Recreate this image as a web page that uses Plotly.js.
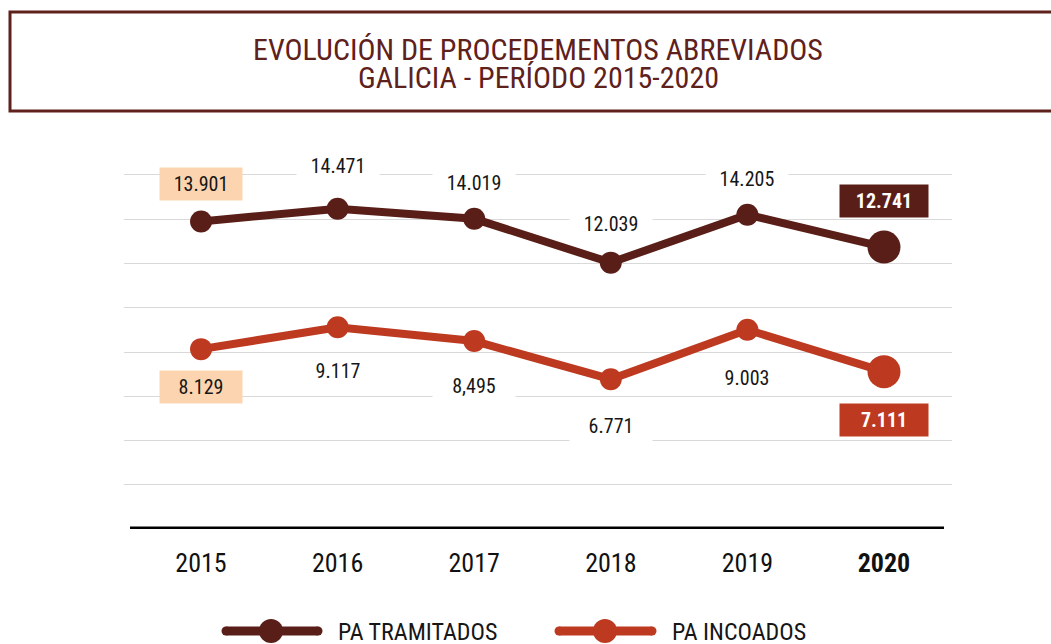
<!DOCTYPE html>
<html>
<head>
<meta charset="utf-8">
<script src="https://cdn.plot.ly/plotly-3.0.1.min.js"></script>
<style>
html,body{margin:0;padding:0;background:#fff;}
#chart{width:1051px;height:644px;}
</style>
</head>
<body>
<div id="chart"></div>
<script>
// ---- data ----
const years = ['2015', '2016', '2017', '2018', '2019', '2020'];
const yearLabels = ['2015', '2016', '2017', '2018', '2019', '<b>2020</b>'];
const tramitados = [13901, 14471, 14019, 12039, 14205, 12741];
const incoados = [8129, 9117, 8495, 6771, 9003, 7111];
const tramitadosLabels = ['13.901', '14.471', '14.019', '12.039', '14.205', '12.741'];
const incoadosLabels = ['8.129', '9.117', '8,495', '6.771', '9.003', '7.111'];
const seriesNames = ['PA TRAMITADOS', 'PA INCOADOS'];
const titleLines = ['EVOLUCIÓN DE PROCEDEMENTOS ABREVIADOS', 'GALICIA - PERÍODO 2015-2020'];

// ---- styles ----
const BROWN = '#5A1E18';
const RED = '#BD3A21';
const PEACH = '#FCD5B0';
const FONT = '"Liberation Sans Narrow", "Arial Narrow", "Roboto Condensed", sans-serif';
const tramShift = [37, 43, 36, 39, 36, 46];
const incShift = [-38, -44, -45, -47, -48, -48];

const ML = 124, MR = 99, MT = 173, MB = 115, W = 1051, H = 644;
const PW = W - ML - MR, PH = H - MT - MB;
const YTOP = 16090;
function px2x(px) { return (px - ML) / PW; }
function py2y(py) { return (H - MB - py) / PH; }

const lastIdx = years.length - 1;
const markerSizes = years.map((y, i) => i === lastIdx ? 33 : 22);

const traces = [
  {
    x: years, y: tramitados, name: seriesNames[0], type: 'scatter', mode: 'lines+markers',
    line: {color: BROWN, width: 8},
    marker: {color: BROWN, size: markerSizes, opacity: 1, line: {width: 0}},
    hoverinfo: 'x+y', showlegend: false
  },
  {
    x: years, y: incoados, name: seriesNames[1], type: 'scatter', mode: 'lines+markers',
    line: {color: RED, width: 8},
    marker: {color: RED, size: markerSizes, opacity: 1, line: {width: 0}},
    hoverinfo: 'x+y', showlegend: false
  }
];

const annotations = [];
function addLabels(vals, labels, shifts, color) {
  vals.forEach((v, i) => {
    const last = i === lastIdx;
    const first = i === 0;
    annotations.push({
      x: i, y: v, xref: 'x', yref: 'y', text: last ? '<b>' + labels[i] + '</b>' : labels[i],
      showarrow: false, yshift: shifts[i], xanchor: 'center', yanchor: 'middle',
      width: last ? 86 : 80, height: 30,
      bgcolor: last ? color : (first ? PEACH : '#ffffff'),
      font: {family: FONT, size: 20, color: last ? '#ffffff' : '#161616'}
    });
  });
}
addLabels(tramitados, tramitadosLabels, tramShift, BROWN);
addLabels(incoados, incoadosLabels, incShift, RED);

// title
annotations.push({
  xref: 'paper', yref: 'paper', x: px2x(538), y: py2y(49), text: titleLines[0], showarrow: false,
  xanchor: 'center', yanchor: 'middle', font: {family: FONT, size: 30, color: '#5F211C'}
});
annotations.push({
  xref: 'paper', yref: 'paper', x: px2x(538), y: py2y(77), text: titleLines[1], showarrow: false,
  xanchor: 'center', yanchor: 'middle', font: {family: FONT, size: 30, color: '#5F211C'}
});

// legend (custom)
const legendItems = [
  {x0: 222, x1: 322, mx: 271, tx: 336, color: BROWN, name: seriesNames[0]},
  {x0: 555, x1: 656, mx: 605, tx: 670, color: RED, name: seriesNames[1]}
];
const LY = 631;
const shapes = [
  // title box
  {type: 'rect', xref: 'paper', yref: 'paper', x0: px2x(10), x1: px2x(1060), y0: py2y(111), y1: py2y(12),
   line: {color: '#5F211C', width: 3}, fillcolor: 'rgba(0,0,0,0)', layer: 'below'},
  // baseline
  {type: 'line', xref: 'paper', yref: 'y', x0: px2x(130), x1: px2x(944), y0: 0, y1: 0,
   line: {color: '#000000', width: 5}}
];
legendItems.forEach(it => {
  shapes.push({type: 'line', xref: 'paper', yref: 'paper', x0: px2x(it.x0 + 4), x1: px2x(it.x1 - 4),
    y0: py2y(LY), y1: py2y(LY), line: {color: it.color, width: 9}});
  [it.x0 + 4, it.x1 - 4].forEach(cx => {
    shapes.push({type: 'circle', xref: 'paper', yref: 'paper', xsizemode: 'pixel', ysizemode: 'pixel',
      xanchor: px2x(cx), yanchor: py2y(LY), x0: -4.5, x1: 4.5, y0: -4.5, y1: 4.5,
      fillcolor: it.color, line: {width: 0}});
  });
  shapes.push({type: 'circle', xref: 'paper', yref: 'paper', xsizemode: 'pixel', ysizemode: 'pixel',
    xanchor: px2x(it.mx), yanchor: py2y(LY), x0: -12, x1: 12, y0: -12, y1: 12,
    fillcolor: it.color, line: {width: 0}});
  annotations.push({xref: 'paper', yref: 'paper', x: px2x(it.tx), y: py2y(LY + 1), text: it.name,
    showarrow: false, xanchor: 'left', yanchor: 'middle',
    font: {family: FONT, size: 24, color: '#161616'}});
});

const layout = {
  width: W, height: H,
  margin: {l: ML, r: MR, t: MT, b: MB, pad: 0},
  paper_bgcolor: '#ffffff', plot_bgcolor: '#ffffff',
  showlegend: false,
  xaxis: {
    type: 'category', range: [-0.564, 5.498], showgrid: false, zeroline: false, showline: false,
    tickvals: years, ticktext: yearLabels, ticks: '', ticklabelstandoff: 16,
    tickfont: {family: FONT, size: 26, color: '#111111'}, fixedrange: true
  },
  yaxis: {
    range: [0, YTOP], dtick: 2000, tick0: 0, showgrid: true, gridcolor: '#D9D9D9', gridwidth: 1,
    zeroline: false, showline: false, showticklabels: false, ticks: '', fixedrange: true
  },
  annotations: annotations,
  shapes: shapes
};

Plotly.newPlot('chart', traces, layout, {displayModeBar: false, staticPlot: true});
</script>
</body>
</html>
